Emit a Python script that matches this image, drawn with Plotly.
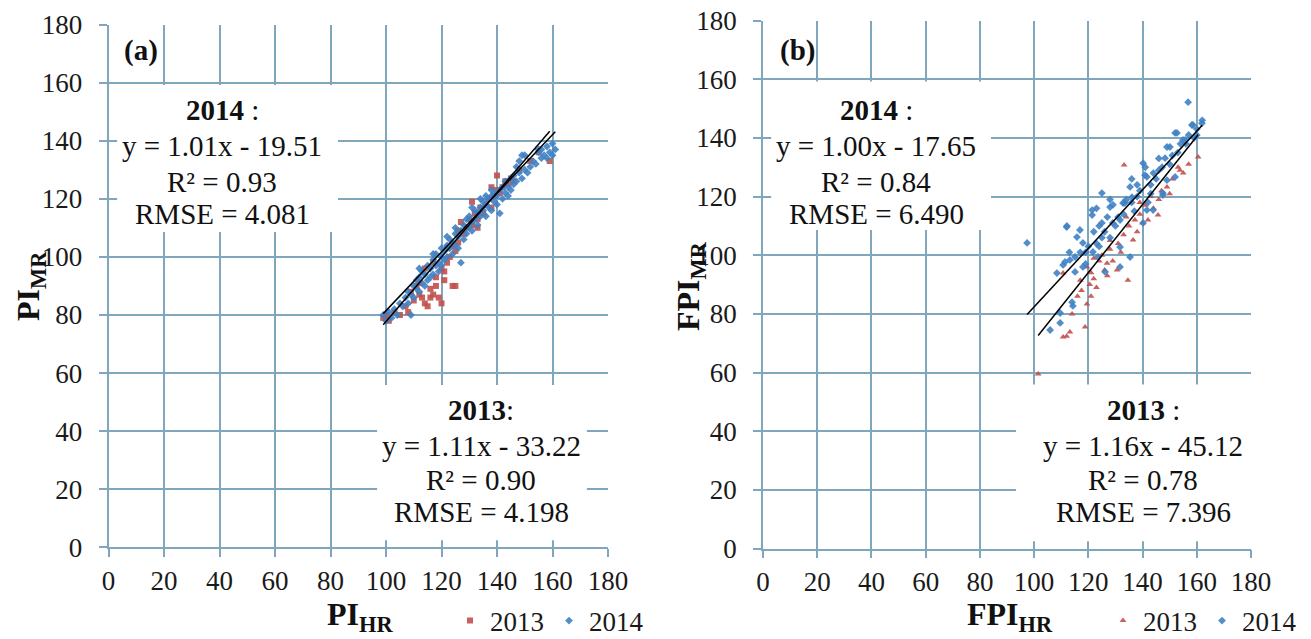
import plotly.graph_objects as go

# ---------------- data: panel (a) PI ----------------
a13_x = [99, 100, 101, 103, 105, 107, 108, 110, 111, 112, 113, 114, 115, 116, 116, 117, 118, 118, 119, 120,
         120, 121, 121, 122, 123, 124, 125, 124, 125, 126, 127, 128, 129, 130, 131, 131, 132, 133, 134, 135,
         136, 137, 138, 139, 140, 140, 141, 142, 143, 144, 145, 146, 114, 117, 122, 126, 133, 138, 112, 109,
         148, 152, 155, 159]
a13_y = [79, 80, 78, 81, 80, 83, 81, 85, 90, 87, 86, 84, 83, 89, 86, 87, 90, 93, 86, 84,
         96, 92, 95, 98, 100, 90, 90, 104, 102, 105, 112, 108, 110, 113, 111, 119, 115, 110, 117, 115,
         118, 120, 117, 121, 128, 123, 122, 124, 126, 125, 127, 126, 96, 98, 103, 109, 113, 124, 91, 88,
         130, 133, 136, 133]

a14_x = [99, 100, 101, 102, 103, 104, 105, 106, 107, 108, 108, 109, 109, 110, 110, 111, 111, 112, 112, 113,
         113, 114, 114, 115, 115, 116, 116, 117, 117, 118, 118, 119, 119, 120, 120, 121, 121, 122, 122, 123,
         123, 124, 124, 125, 125, 126, 126, 127, 127, 128, 128, 129, 129, 130, 130, 131, 131, 132, 132, 133,
         133, 134, 134, 135, 135, 136, 136, 137, 137, 138, 138, 139, 139, 140, 140, 141, 141, 142, 142, 143,
         143, 144, 144, 145, 145, 146, 146, 147, 147, 148, 148, 149, 150, 150, 151, 152, 153, 154, 155, 156,
         156, 157, 158, 158, 159, 160, 160, 161, 136, 134, 131, 138, 125, 120, 122, 117, 112, 149, 155]
a14_y = [80, 78, 81, 79, 82, 80, 84, 83, 86, 84, 88, 80, 87, 90, 86, 89, 92, 88, 93, 91,
         95, 94, 90, 92, 97, 96, 93, 99, 94, 97, 101, 98, 95, 100, 103, 102, 99, 104, 100, 103,
         106, 101, 105, 104, 108, 107, 103, 98, 109, 106, 111, 108, 113, 110, 114, 112, 109, 116, 113, 115,
         111, 117, 114, 116, 119, 118, 114, 120, 117, 116, 121, 119, 122, 121, 118, 115, 123, 120, 124, 122,
         126, 124, 121, 127, 123, 128, 125, 126, 131, 129, 133, 127, 130, 135, 129, 131, 133, 132, 136, 134,
         137, 135, 138, 134, 136, 139, 135, 137, 121, 120, 117, 123, 110, 97, 107, 101, 96, 135, 137]

# ---------------- data: panel (b) FPI ----------------
b13_x = [101.5, 110.7, 112, 113.2, 118.8, 119.5, 117, 110.7, 114, 116, 117.5, 119.5, 120.5, 121, 122, 123, 124,
         125, 126, 126.9, 127, 128, 129, 130.6, 131, 132, 133.2, 133, 134.6, 135, 136.5, 137.2, 138, 139,
         140, 141, 142, 143, 144, 145.7, 146, 147, 149, 150, 151, 153.1, 153.8, 155, 157, 160.5, 122, 128,
         134, 139, 121]
b13_y = [59.5, 72.1, 72.4, 73.8, 75.5, 83.4, 91.5, 93.9, 80, 86, 88, 96, 90, 94, 92, 89, 98,
         100, 95, 97.3, 93, 102, 98, 95, 104, 101, 130.8, 107, 91.5, 110, 105.2, 112, 108, 114,
         111, 117, 112, 120, 116, 113.7, 119, 122, 123.3, 121, 126, 130, 129, 128, 131, 133.5, 99, 105,
         113, 118, 86]

b14_x = [97.4, 105.9, 108.4, 109.6, 109.6, 110.7, 111.4, 112, 112.1, 113.2, 114, 114.3, 115.1, 115.1, 115.8, 116.9,
         118, 119, 120, 121.4, 121.4, 121.7, 122, 123, 123.6, 124, 125, 125, 125, 126.2, 127, 128, 128,
         129.1, 130, 131, 131.7, 131.7, 131.7, 132.8, 133.5, 134, 135.4, 135.4, 136.1, 137, 138, 139, 140.2,
         140.2, 140.9, 141.6, 141.6, 142, 143, 143.9, 144, 145, 146, 147.2, 147.5, 147.5, 148.3, 149, 149,
         150.1, 151, 152, 152, 152.7, 154, 154.9, 155.7, 156.8, 157, 158.2, 158.6, 159, 160, 161.9, 162,
         117, 119, 124, 126, 129, 133, 136, 138, 143, 146, 150, 153, 156, 160, 113, 118, 123, 128, 136, 141]
b14_y = [104.2, 74.5, 93.9, 80.3, 76.9, 96.7, 97.7, 109.6, 110, 98.4, 84, 82.7, 94.3, 99.4, 106.2, 108.6,
         104.2, 101, 103, 113.7, 115.4, 101.1, 108, 104, 99.4, 110, 121.2, 111, 106, 94.3, 113, 106, 116.4,
         117.2, 110, 113, 112, 102.8, 96, 117.8, 117.8, 119, 123.3, 99.4, 119.8, 115, 120, 122, 131.4,
         111, 127.3, 126.7, 115.4, 118, 124, 115.4, 128, 126, 133, 130, 120.5, 121.2, 133.1, 136.9, 125.6,
         136.9, 134, 141.7, 126.7, 141.7, 138, 139.3, 139.3, 152.2, 141, 144.4, 144.4, 140, 143, 145, 146,
         101, 97, 103, 108, 111, 114, 118, 124, 121, 129, 131, 135, 138, 141, 101, 96, 116, 119, 126, 130]

# regression equations (slope, intercept)
a13_fit = [1.11, -33.22]
a14_fit = [1.01, -19.51]
b13_fit = [1.16, -45.12]
b14_fit = [1.00, -17.65]

tick_vals = [0, 20, 40, 60, 80, 100, 120, 140, 160, 180]

RED = "#c0504d"
BLUE = "#3f82c4"
GRID = "rgb(128,166,190)"
FONT = "Liberation Serif"
W, H = 1311, 639

fig = go.Figure()


def fit_line(xs, fit):
    x0, x1 = min(xs), max(xs)
    return [x0, x1], [fit[0] * x0 + fit[1], fit[0] * x1 + fit[1]]


def add_panel(xa, ya, xb, yb, fa, fb, xref, yref, legend, sym13):
    fig.add_trace(go.Scatter(x=xa, y=ya, mode="markers", name="2013", xaxis=xref, yaxis=yref,
                             legend=legend,
                             marker=dict(color=RED, size=6, symbol=sym13, opacity=0.9)))
    fig.add_trace(go.Scatter(x=xb, y=yb, mode="markers", name="2014", xaxis=xref, yaxis=yref,
                             legend=legend,
                             marker=dict(color=BLUE, size=6, symbol="diamond", opacity=0.9)))
    for xs, f in ((xb, fb), (xa, fa)):
        lx, ly = fit_line(xs, f)
        fig.add_trace(go.Scatter(x=lx, y=ly, mode="lines", showlegend=False, xaxis=xref, yaxis=yref,
                                 line=dict(color="black", width=1.5), hoverinfo="skip"))


add_panel(a13_x, a13_y, a14_x, a14_y, a13_fit, a14_fit, "x", "y", "legend", "square")
add_panel(b13_x, b13_y, b14_x, b14_y, b13_fit, b14_fit, "x2", "y2", "legend2", "triangle-up")

axis_common = dict(range=[0, 180], tickvals=tick_vals, showgrid=True, gridcolor=GRID, gridwidth=1.6,
                   showline=True, linecolor=GRID, linewidth=1.6, zeroline=False,
                   ticks="outside", ticklen=8, tickwidth=1.6, tickcolor=GRID,
                   tickfont=dict(family=FONT, size=27, color="#1a1a1a"), fixedrange=True)

fig.update_layout(
    width=W, height=H,
    margin=dict(l=0, r=0, t=0, b=0, autoexpand=False),
    plot_bgcolor="white", paper_bgcolor="white",
    xaxis=dict(domain=[108.5 / W, 608 / W], anchor="y", **axis_common),
    yaxis=dict(domain=[1 - 547.4 / H, 1 - 24.5 / H], anchor="x", ticklabelstandoff=11, **axis_common),
    xaxis2=dict(domain=[763 / W, 1251 / W], anchor="y2", **axis_common),
    yaxis2=dict(domain=[1 - 548.5 / H, 1 - 20.6 / H], anchor="x2", ticklabelstandoff=11, **axis_common),
    legend=dict(orientation="h", x=450 / W, xanchor="left", y=1 - 621 / H, yanchor="middle",
                font=dict(family=FONT, size=27, color="#1a1a1a"), bgcolor="rgba(0,0,0,0)",
                itemclick=False),
    legend2=dict(orientation="h", x=1103 / W, xanchor="left", y=1 - 621 / H, yanchor="middle",
                 font=dict(family=FONT, size=27, color="#1a1a1a"), bgcolor="rgba(0,0,0,0)",
                 itemclick=False),
    showlegend=True,
)

# white text boxes (cover gridlines)
boxes = [("x", "y", 3.1, 108.6, 82.7, 159.2), ("x", "y", 96.8, 2.5, 172.4, 55.9),
         ("x2", "y2", 3.0, 108.6, 84.1, 159.2), ("x2", "y2", 93.3, 2.5, 180, 55.9)]
for xr, yr, x0, y0, x1, y1 in boxes:
    fig.add_shape(type="rect", xref=xr, yref=yr, x0=x0, y0=y0, x1=x1, y1=y1,
                  fillcolor="white", line=dict(width=0), layer="between")


def txt(px, py, text, size=29, angle=0):
    fig.add_annotation(x=px / W, y=1 - py / H, xref="paper", yref="paper", text=text,
                       showarrow=False, xanchor="center", yanchor="middle", textangle=angle,
                       font=dict(family=FONT, size=size, color="#111111"))


# equation blocks
blocks = [
    (222, [110, 146, 181.5, 214], ["<b>2014</b> :", "y = 1.01x - 19.51", "R² = 0.93", "RMSE = 4.081"]),
    (481, [410, 446, 480, 512], ["<b>2013</b>:", "y = 1.11x - 33.22", "R² = 0.90", "RMSE = 4.198"]),
    (876, [110, 146, 181.5, 214], ["<b>2014</b> :", "y = 1.00x - 17.65", "R² = 0.84", "RMSE = 6.490"]),
    (1143, [410, 446, 480, 512], ["<b>2013</b> :", "y = 1.16x - 45.12", "R² = 0.78", "RMSE = 7.396"]),
]
for cx, ys, lines in blocks:
    for yy, line in zip(ys, lines):
        txt(cx, yy, line)

txt(141, 50, "<b>(a)</b>")
txt(797, 50, "<b>(b)</b>")

# axis titles
txt(360, 616, "<b>PI<sub>HR</sub></b>", size=32)
txt(1010, 616, "<b>FPI<sub>HR</sub></b>", size=32)
txt(30, 286, "<b>PI<sub>MR</sub></b>", size=32, angle=-90)
txt(690, 286, "<b>FPI<sub>MR</sub></b>", size=32, angle=-90)

fig.write_html("out.html", config={"displayModeBar": False},
               post_script="document.body.style.margin='0';document.body.style.overflow='hidden';")
